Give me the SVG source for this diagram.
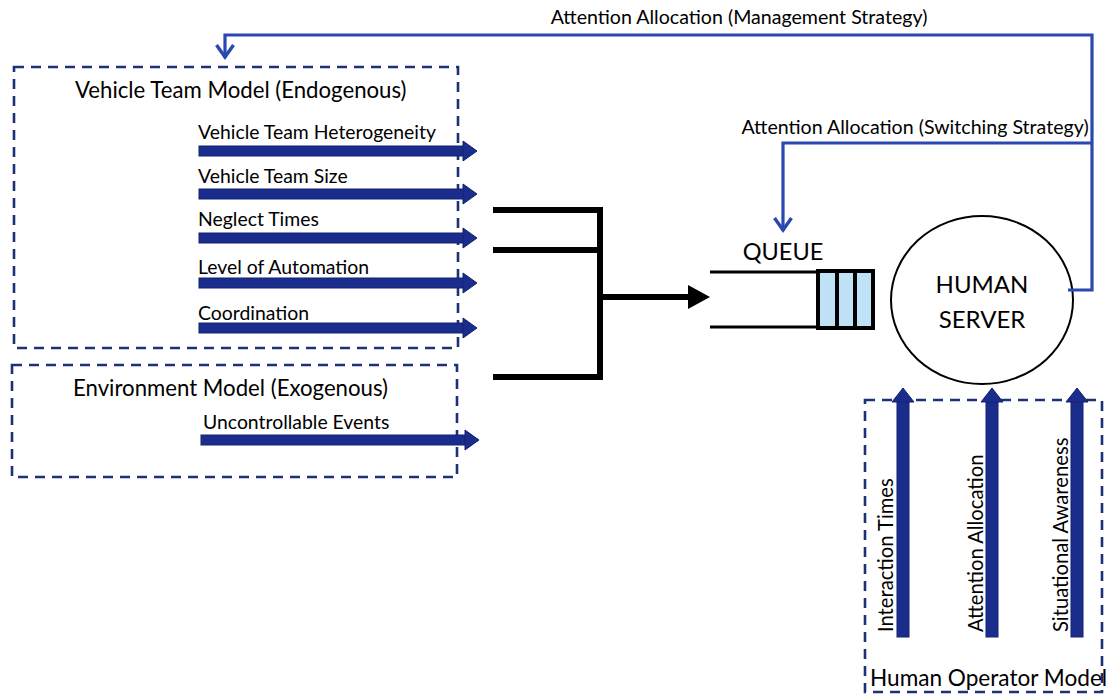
<svg xmlns="http://www.w3.org/2000/svg" width="1106" height="694" viewBox="0 0 1106 694">
  <defs>
    <style>
      .lbl { font-family: Lato, "Open Sans", "Liberation Sans", sans-serif; fill: #000; }
      .dash { fill: none; stroke: #1c3278; stroke-width: 2.6; stroke-dasharray: 10 7; }
      .fb { fill: none; stroke: #2a48b0; stroke-width: 3.2; }
      .blk { fill: none; stroke: #000; stroke-width: 6; stroke-linecap: butt; stroke-linejoin: miter; }
      .harrow { fill: #1b2d8c; stroke: #14226e; stroke-width: 1; }
    </style>
    <marker id="vhead" viewBox="0 0 20 20" refX="18" refY="10" markerWidth="20" markerHeight="20" markerUnits="userSpaceOnUse" orient="auto">
      <path d="M5 1.5 L17 10 L5 18.5" fill="none" stroke="#2a48b0" stroke-width="3.4" stroke-linejoin="miter"/>
    </marker>
    <!-- horizontal factor arrow: shaft + head, placed by translate -->
    <g id="hArrow">
      <rect x="0" y="-5" width="266" height="10" class="harrow"/>
      <polygon points="264,-10 278,0 264,10" class="harrow"/>
    </g>
    <!-- vertical factor arrow pointing up -->
    <g id="vArrow">
      <rect x="-6" y="0" width="12" height="236" class="harrow"/>
      <polygon points="-11,1 0,-13 11,1" class="harrow"/>
    </g>
  </defs>

  <rect width="1106" height="694" fill="#fff"/>

  <!-- Vehicle team model -->
  <g id="vehicle-team-model">
    <rect x="14" y="67" width="444" height="281" class="dash"/>
    <text class="lbl" x="75" y="98" font-size="22.2">Vehicle Team  Model (Endogenous)</text>
    <use href="#hArrow" x="199" y="151"/>
    <text class="lbl" x="198" y="139" font-size="19.4">Vehicle Team Heterogeneity</text>
    <use href="#hArrow" x="199" y="194"/>
    <text class="lbl" x="198" y="183" font-size="19.4">Vehicle Team Size</text>
    <use href="#hArrow" x="199" y="238"/>
    <text class="lbl" x="198" y="226" font-size="19.4">Neglect Times</text>
    <use href="#hArrow" x="199" y="283"/>
    <text class="lbl" x="198" y="274" font-size="19.4">Level of Automation</text>
    <use href="#hArrow" x="199" y="328"/>
    <text class="lbl" x="198" y="320" font-size="19.4">Coordination</text>
  </g>

  <!-- Environment model -->
  <g id="environment-model">
    <rect x="12" y="365" width="445" height="112" class="dash"/>
    <text class="lbl" x="73" y="396" font-size="22.2">Environment Model (Exogenous)</text>
    <use href="#hArrow" x="201" y="440"/>
    <text class="lbl" x="203" y="429" font-size="19.4">Uncontrollable Events</text>
  </g>

  <!-- Queue -->
  <g id="queue">
    <text class="lbl" x="783" y="260" font-size="23.5" text-anchor="middle">QUEUE</text>
    <line x1="710" y1="272" x2="818" y2="272" stroke="#000" stroke-width="3"/>
    <line x1="710" y1="327" x2="818" y2="327" stroke="#000" stroke-width="3"/>
    <rect x="818" y="271" width="55" height="57" fill="#bfe2f6" stroke="#000" stroke-width="4"/>
    <line x1="837" y1="271" x2="837" y2="328" stroke="#000" stroke-width="4"/>
    <line x1="855" y1="271" x2="855" y2="328" stroke="#000" stroke-width="4"/>
  </g>

  <!-- Human server -->
  <g id="human-server">
    <ellipse cx="982" cy="300" rx="91" ry="84" fill="#fff" stroke="#000" stroke-width="2"/>
    <text class="lbl" x="982" y="293" font-size="24" text-anchor="middle">HUMAN</text>
    <text class="lbl" x="982" y="328" font-size="24" text-anchor="middle">SERVER</text>
  </g>

  <!-- Human operator model -->
  <g id="human-operator-model">
    <rect x="865" y="400" width="237" height="292" class="dash"/>
    <use href="#vArrow" x="903" y="401"/>
    <use href="#vArrow" x="992" y="401"/>
    <use href="#vArrow" x="1077" y="401"/>
    <text class="lbl" font-size="20.2" transform="translate(893 632) rotate(-90)">Interaction Times</text>
    <text class="lbl" font-size="20.2" transform="translate(983 632) rotate(-90)">Attention Allocation</text>
    <text class="lbl" font-size="20.2" transform="translate(1068 632) rotate(-90)">Situational Awareness</text>
    <text class="lbl" x="870" y="686" font-size="22.6">Human Operator Model</text>
  </g>

  <!-- Connectors -->
  <g id="connectors">
    <!-- inputs merging into the queue -->
    <path class="blk" d="M493 210 H600 V377 H493"/>
    <path class="blk" d="M493 250 H600"/>
    <path class="blk" d="M600 297 H692"/>
    <polygon points="688,285 710,297 688,309" fill="#000"/>

    <!-- feedback from the server -->
    <path class="fb" d="M1068 290 H1092 V35 H225 V58" marker-end="url(#vhead)"/>
    <path class="fb" d="M1092 143 H783 V231" marker-end="url(#vhead)"/>
    <text class="lbl" x="739" y="24" font-size="19.6" text-anchor="middle">Attention Allocation (Management Strategy)</text>
    <text class="lbl" x="915" y="134" font-size="19.6" text-anchor="middle">Attention Allocation (Switching Strategy)</text>
  </g>
</svg>
